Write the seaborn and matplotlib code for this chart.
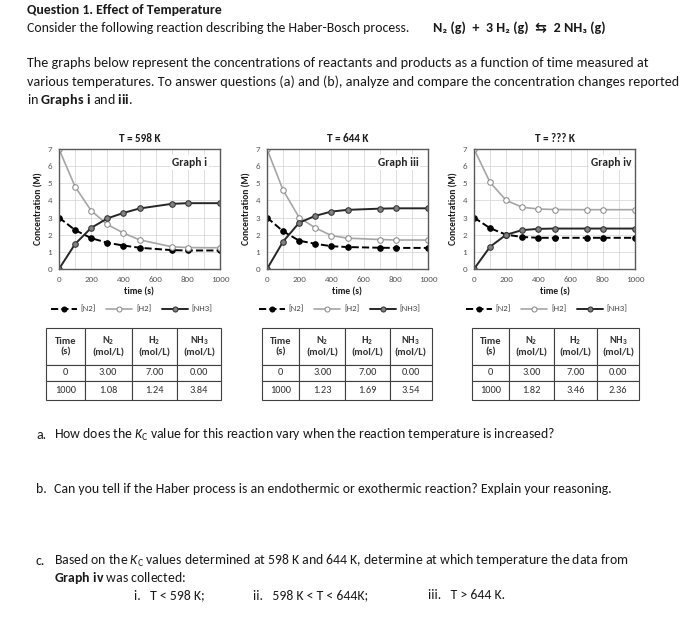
import matplotlib
matplotlib.use('Agg')
import matplotlib.pyplot as plt
import matplotlib.font_manager as fm
import seaborn as sns

# --- data ---
time_s = [0, 100, 200, 300, 400, 500, 700, 800, 1000]

n2_598 = [3.00, 2.27, 1.80, 1.53, 1.37, 1.24, 1.10, 1.08, 1.08]
h2_598 = [7.00, 4.80, 3.40, 2.60, 2.10, 1.70, 1.30, 1.25, 1.24]
nh3_598 = [0.00, 1.46, 2.40, 2.95, 3.27, 3.53, 3.80, 3.84, 3.84]

n2_644 = [3.00, 2.20, 1.65, 1.47, 1.33, 1.28, 1.24, 1.23, 1.23]
h2_644 = [7.00, 4.60, 3.00, 2.40, 1.95, 1.80, 1.72, 1.69, 1.69]
nh3_644 = [0.00, 1.60, 2.70, 3.10, 3.35, 3.45, 3.52, 3.54, 3.54]

n2_unk = [3.00, 2.38, 2.00, 1.87, 1.82, 1.82, 1.82, 1.82, 1.82]
h2_unk = [7.00, 5.05, 4.00, 3.60, 3.50, 3.47, 3.46, 3.46, 3.46]
nh3_unk = [0.00, 1.30, 2.00, 2.27, 2.34, 2.36, 2.36, 2.36, 2.36]

titles = ['T = 598 K', 'T = 644 K', 'T = ??? K']
tags = ['Graph i', 'Graph iii', 'Graph iv']
legend_labels = ['[N2]', '[H2]', '[NH3]']

table_header = ['Time\n(s)', '$\\mathbf{N_2}$\n(mol/L)', '$\\mathbf{H_2}$\n(mol/L)', '$\\mathbf{NH_3}$\n(mol/L)']
table_598 = [['0', '3.00', '7.00', '0.00'], ['1000', '1.08', '1.24', '3.84']]
table_644 = [['0', '3.00', '7.00', '0.00'], ['1000', '1.23', '1.69', '3.54']]
table_unk = [['0', '3.00', '7.00', '0.00'], ['1000', '1.82', '3.46', '2.36']]

# --- fonts ---
sns.set_style('white')
avail = {f.name for f in fm.fontManager.ttflist}
body = next(f for f in ['Carlito', 'Liberation Sans Narrow', 'Lato', 'Liberation Sans'] if f in avail)
plt.rcParams['font.family'] = [body, 'DejaVu Sans']
plt.rcParams['mathtext.fontset'] = 'custom'
plt.rcParams['mathtext.rm'] = body
plt.rcParams['mathtext.it'] = body + ':italic'
plt.rcParams['mathtext.bf'] = body + ':bold'

fig = plt.figure(figsize=(7, 6.29), dpi=100)


def fx(px):
    return px / 700


def fy(py):
    return 1 - py / 629


TXT = 10.2
QTXT = 9.95
INK = '#1a1a1a'

# header text
fig.text(fx(27), fy(10), 'Question 1. Effect of Temperature', fontsize=QTXT, fontweight='bold', va='center', color=INK)
fig.text(fx(27), fy(28), 'Consider the following reaction describing the Haber-Bosch process.', fontsize=QTXT, va='center', color=INK)
fig.text(fx(433), fy(28), 'N\u2082 (g)  +  3 H\u2082 (g)  \u21c6  2 NH\u2083 (g)', fontsize=TXT, fontweight='bold', va='center', color=INK)
fig.text(fx(27), fy(63), 'The graphs below represent the concentrations of reactants and products as a function of time measured at',
         fontsize=TXT, va='center', color=INK)
fig.text(fx(27), fy(82), 'various temperatures. To answer questions (a) and (b), analyze and compare the concentration changes reported',
         fontsize=TXT, va='center', color=INK)
fig.text(fx(27), fy(100), 'in $\\mathbf{Graphs\\ i}$ and $\\mathbf{iii}$.', fontsize=TXT, va='center', color=INK)

charts = [
    (59, n2_598, h2_598, nh3_598, table_598, 46, 221, 0.92),
    (267, n2_644, h2_644, nh3_644, table_644, 262, 432, 0.94),
    (474, n2_unk, h2_unk, nh3_unk, table_unk, 472, 639, 0.98),
]

for i, (left, n2, h2, nh3, rows, tl, tr, tag_x) in enumerate(charts):
    ax = fig.add_axes([fx(left), fy(269), 161 / 700, 120 / 629])
    sns.lineplot(x=time_s, y=n2, ax=ax, color='black', linestyle='--', lw=1.4, marker='o', markersize=4,
                 markerfacecolor='black', markeredgecolor='black', label=legend_labels[0])
    sns.lineplot(x=time_s, y=h2, ax=ax, color='#a6a6a6', lw=1.2, marker='o', markersize=4,
                 markerfacecolor='white', markeredgecolor='#8c8c8c', label=legend_labels[1])
    sns.lineplot(x=time_s, y=nh3, ax=ax, color='#262626', lw=1.4, marker='o', markersize=4,
                 markerfacecolor='#808080', markeredgecolor='#333333', label=legend_labels[2])
    ax.set_xlim(0, 1000)
    ax.set_ylim(0, 7)
    ax.set_xticks(range(0, 1001, 200))
    ax.set_xticks(range(0, 1001, 100), minor=True)
    ax.set_yticks(range(0, 8))
    ax.grid(True, which='both', color='#d9d9d9', lw=0.6)
    ax.set_axisbelow(True)
    for sp in ax.spines.values():
        sp.set_color('#595959')
        sp.set_linewidth(1.0)
    ax.tick_params(axis='x', which='both', length=0, labelsize=6.5, labelcolor='#595959', pad=5)
    ax.tick_params(axis='y', length=2, color='#595959', labelsize=6.5, labelcolor='#595959', pad=3)
    ax.set_title(titles[i], fontsize=8, fontweight='bold', pad=5, color=INK)
    ax.set_xlabel('time (s)', fontsize=6.8, fontweight='bold', color=INK, labelpad=3)
    ax.set_ylabel('Concentration (M)', fontsize=6.8, fontweight='bold', color=INK, labelpad=3)
    ax.text(tag_x, 0.89, tags[i], transform=ax.transAxes, ha='right', va='center', fontsize=8.3,
            fontweight='bold', color='#262626', bbox=dict(facecolor='white', edgecolor='none', pad=1.5))
    ax.legend(loc='center', bbox_to_anchor=(0.45, -0.333), ncol=3, frameon=False, fontsize=6.3,
              handlelength=3.0, columnspacing=1.2, handletextpad=0.4, labelcolor='#404040', markerscale=0.9)

    # table under each chart
    tax = fig.add_axes([fx(tl), fy(400), (tr - tl) / 700, 72 / 629])
    tax.axis('off')
    tbl = tax.table(cellText=[table_header] + rows, cellLoc='center', bbox=[0, 0, 1, 1],
                    colWidths=[0.22, 0.27, 0.26, 0.25])
    tbl.auto_set_font_size(False)
    for (r, c), cell in tbl.get_celld().items():
        cell.set_edgecolor('#404040')
        cell.set_linewidth(0.8)
        cell.set_height(0.51 if r == 0 else (0.22 if r == 1 else 0.27))
        cell.get_text().set_fontsize(7.5)
        cell.get_text().set_color('#333333')
        if r == 0:
            cell.get_text().set_fontweight('bold')

# questions
fig.text(fx(36), fy(435), 'a.', fontsize=QTXT, va='center', color=INK)
fig.text(fx(54), fy(435), 'How does the $\\mathit{K}_{\\mathrm{C}}$ value for this reaction vary when the reaction temperature is increased?',
         fontsize=QTXT, va='center', color=INK)
fig.text(fx(36), fy(489), 'b.', fontsize=QTXT, va='center', color=INK)
fig.text(fx(54), fy(489), 'Can you tell if the Haber process is an endothermic or exothermic reaction? Explain your reasoning.',
         fontsize=QTXT, va='center', color=INK)
fig.text(fx(36), fy(561), 'c.', fontsize=QTXT, va='center', color=INK)
fig.text(fx(54), fy(561), 'Based on the $\\mathit{K}_{\\mathrm{C}}$ values determined at 598 K and 644 K, determine at which temperature the data from',
         fontsize=QTXT, va='center', color=INK)
fig.text(fx(54), fy(578), '$\\mathbf{Graph\\ iv}$ was collected:', fontsize=QTXT, va='center', color=INK)
fig.text(fx(134), fy(595), 'i.   T < 598 K;', fontsize=QTXT, va='center', color=INK)
fig.text(fx(253), fy(595), 'ii.   598 K < T < 644K;', fontsize=QTXT, va='center', color=INK)
fig.text(fx(428), fy(595), 'iii.   T > 644 K.', fontsize=QTXT, va='center', color=INK)

fig.savefig('out.png', dpi=100)
